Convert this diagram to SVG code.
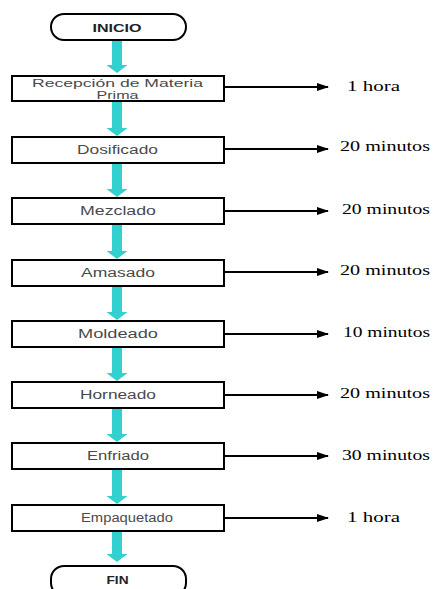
<svg xmlns="http://www.w3.org/2000/svg" width="433" height="589" viewBox="0 0 433 589">
<style>
.term{fill:#fff;stroke:#000;stroke-width:2}
.box{fill:#fff;stroke:#000;stroke-width:2}
.bt{font-family:"Liberation Sans",Arial,sans-serif;font-size:12.5px;fill:#4a4a4a;text-anchor:middle}
.bs{font-size:11px}
.tt{font-family:"Liberation Sans",Arial,sans-serif;font-size:11.5px;font-weight:bold;fill:#222;text-anchor:middle}
.lt{font-family:"Liberation Serif","Times New Roman",serif;font-size:14px;font-weight:normal;fill:#000}
.flow{fill:#33d0d0}
.hl{stroke:#000;stroke-width:2;fill:none}
</style>
<defs>
<marker id="ah" markerWidth="12" markerHeight="8" refX="11" refY="4" orient="auto" markerUnits="userSpaceOnUse">
<path d="M0,0 L12,4 L0,8 Z" fill="#000"/>
</marker>
</defs>

<g id="connectors">
<path class="flow" d="M112,40 H122 V65 H127.5 L117,73 L106.5,65 H112 Z"/>
<path class="flow" d="M112,101 H122 V128 H127.5 L117,136 L106.5,128 H112 Z"/>
<path class="flow" d="M112,163 H122 V189 H127.5 L117,197 L106.5,189 H112 Z"/>
<path class="flow" d="M112,224 H122 V251 H127.5 L117,259 L106.5,251 H112 Z"/>
<path class="flow" d="M112,286 H122 V312 H127.5 L117,320 L106.5,312 H112 Z"/>
<path class="flow" d="M112,347 H122 V373 H127.5 L117,381 L106.5,373 H112 Z"/>
<path class="flow" d="M112,408 H122 V434 H127.5 L117,442 L106.5,434 H112 Z"/>
<path class="flow" d="M112,469 H122 V496 H127.5 L117,504 L106.5,496 H112 Z"/>
<path class="flow" d="M112,531 H122 V554 H127.5 L117,562 L106.5,554 H112 Z"/>
<line class="hl" x1="224" y1="87" x2="328" y2="87" marker-end="url(#ah)"/>
<line class="hl" x1="224" y1="149" x2="328" y2="149" marker-end="url(#ah)"/>
<line class="hl" x1="224" y1="211" x2="328" y2="211" marker-end="url(#ah)"/>
<line class="hl" x1="224" y1="272" x2="328" y2="272" marker-end="url(#ah)"/>
<line class="hl" x1="224" y1="334" x2="328" y2="334" marker-end="url(#ah)"/>
<line class="hl" x1="224" y1="395" x2="328" y2="395" marker-end="url(#ah)"/>
<line class="hl" x1="224" y1="456" x2="328" y2="456" marker-end="url(#ah)"/>
<line class="hl" x1="224" y1="518" x2="328" y2="518" marker-end="url(#ah)"/>
</g>

<g id="inicio">
<rect class="term" x="51" y="14" width="135" height="26" rx="13"/>
<text class="tt" x="117" y="31.5" textLength="49" lengthAdjust="spacingAndGlyphs">INICIO</text>
</g>

<g id="recepcion">
<rect class="box" x="12" y="76" width="212" height="25"/>
<text class="bt bs" x="117.5" y="86.5" textLength="171" lengthAdjust="spacingAndGlyphs">Recepción de Materia</text>
<text class="bt bs" x="117.5" y="99" textLength="42" lengthAdjust="spacingAndGlyphs">Prima</text>
</g>
<g id="dosificado">
<rect class="box" x="12" y="137" width="212" height="26"/>
<text class="bt" x="117.5" y="154" textLength="81" lengthAdjust="spacingAndGlyphs">Dosificado</text>
</g>
<g id="mezclado">
<rect class="box" x="12" y="198" width="212" height="26"/>
<text class="bt" x="118" y="215" textLength="76" lengthAdjust="spacingAndGlyphs">Mezclado</text>
</g>
<g id="amasado">
<rect class="box" x="12" y="260" width="212" height="26"/>
<text class="bt" x="118" y="277" textLength="74" lengthAdjust="spacingAndGlyphs">Amasado</text>
</g>
<g id="moldeado">
<rect class="box" x="12" y="321" width="212" height="26"/>
<text class="bt" x="118" y="338" textLength="80" lengthAdjust="spacingAndGlyphs">Moldeado</text>
</g>
<g id="horneado">
<rect class="box" x="12" y="382" width="212" height="26"/>
<text class="bt" x="118" y="399" textLength="76" lengthAdjust="spacingAndGlyphs">Horneado</text>
</g>
<g id="enfriado">
<rect class="box" x="12" y="443" width="212" height="26"/>
<text class="bt" x="118" y="460" textLength="62" lengthAdjust="spacingAndGlyphs">Enfriado</text>
</g>
<g id="empaquetado">
<rect class="box" x="12" y="505" width="212" height="26"/>
<text class="bt" x="127" y="522" textLength="92" lengthAdjust="spacingAndGlyphs">Empaquetado</text>
</g>

<g id="fin">
<rect class="term" x="51" y="566" width="135" height="30" rx="13"/>
<text class="tt" x="117.5" y="584" textLength="22" lengthAdjust="spacingAndGlyphs">FIN</text>
</g>

<g id="labels">
<text class="lt" x="347" y="91" textLength="53" lengthAdjust="spacingAndGlyphs">1 hora</text>
<text class="lt" x="340" y="151" textLength="90" lengthAdjust="spacingAndGlyphs">20 minutos</text>
<text class="lt" x="342" y="214" textLength="88" lengthAdjust="spacingAndGlyphs">20 minutos</text>
<text class="lt" x="340" y="275" textLength="90" lengthAdjust="spacingAndGlyphs">20 minutos</text>
<text class="lt" x="343" y="337" textLength="87" lengthAdjust="spacingAndGlyphs">10 minutos</text>
<text class="lt" x="340" y="398" textLength="90" lengthAdjust="spacingAndGlyphs">20 minutos</text>
<text class="lt" x="342" y="460" textLength="88" lengthAdjust="spacingAndGlyphs">30 minutos</text>
<text class="lt" x="347" y="522" textLength="53" lengthAdjust="spacingAndGlyphs">1 hora</text>
</g>
</svg>
